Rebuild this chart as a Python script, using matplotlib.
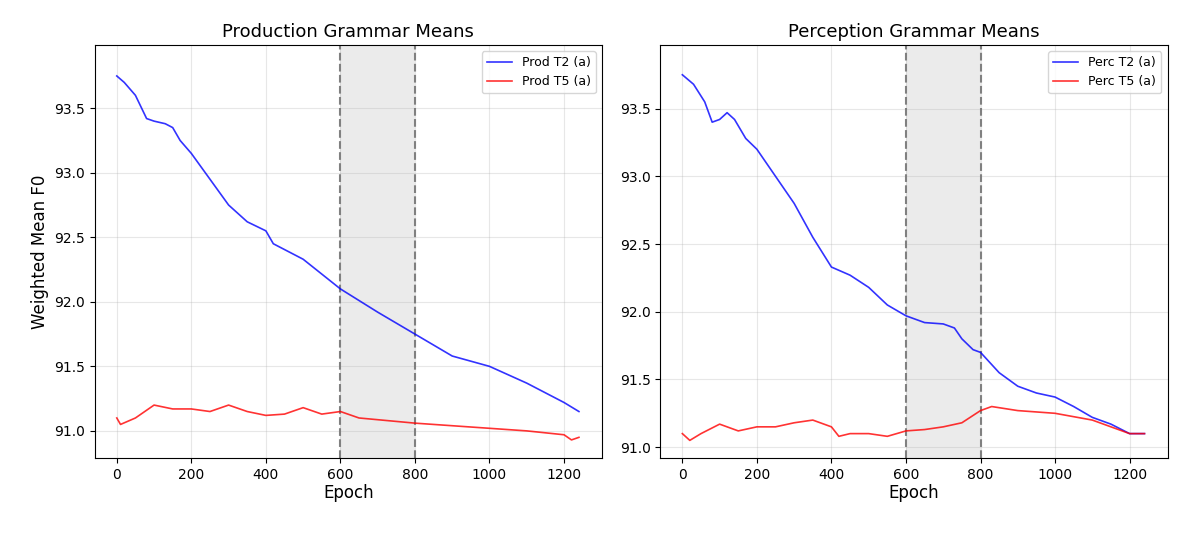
import matplotlib
matplotlib.use("Agg")
import matplotlib.pyplot as plt

prod_t2_x = [0,20,50,80,100,130,150,170,200,250,300,350,400,420,500,600,700,800,900,1000,1100,1200,1240]
prod_t2_y = [93.75,93.7,93.6,93.42,93.4,93.38,93.35,93.25,93.15,92.95,92.75,92.62,92.55,92.45,92.33,92.1,91.92,91.75,91.58,91.5,91.37,91.22,91.15]
prod_t5_x = [0,10,50,100,150,200,250,300,350,400,450,500,550,600,650,800,900,1000,1100,1200,1220,1240]
prod_t5_y = [91.1,91.05,91.1,91.2,91.17,91.17,91.15,91.2,91.15,91.12,91.13,91.18,91.13,91.15,91.1,91.06,91.04,91.02,91.0,90.97,90.93,90.95]
perc_t2_x = [0,30,60,80,100,120,140,170,200,250,300,350,400,450,500,550,600,650,700,730,750,780,800,850,900,950,1000,1050,1100,1150,1200,1240]
perc_t2_y = [93.75,93.68,93.55,93.4,93.42,93.47,93.42,93.28,93.2,93.0,92.8,92.55,92.33,92.27,92.18,92.05,91.97,91.92,91.91,91.88,91.8,91.72,91.7,91.55,91.45,91.4,91.37,91.3,91.22,91.17,91.1,91.1]
perc_t5_x = [0,20,50,100,150,200,250,300,350,400,420,450,500,550,600,650,700,750,800,830,900,1000,1100,1150,1200,1240]
perc_t5_y = [91.1,91.05,91.1,91.17,91.12,91.15,91.15,91.18,91.2,91.15,91.08,91.1,91.1,91.08,91.12,91.13,91.15,91.18,91.27,91.3,91.27,91.25,91.2,91.15,91.1,91.1]
xticks = [0,200,400,600,800,1000,1200]

fig, axes = plt.subplots(1, 2, figsize=(12, 5.42), dpi=100)
fig.subplots_adjust(left=0.079, right=0.973, top=0.917, bottom=0.155, wspace=0.115)

panels = [
    (axes[0], "Production Grammar Means", prod_t2_x, prod_t2_y, prod_t5_x, prod_t5_y, "Prod", (90.79, 93.99)),
    (axes[1], "Perception Grammar Means", perc_t2_x, perc_t2_y, perc_t5_x, perc_t5_y, "Perc", (90.92, 93.97)),
]
for ax, title, x1, y1, x2, y2, lab, yl in panels:
    ax.axvspan(600, 800, color="lightgray", alpha=0.45, lw=0)
    ax.axvline(600, color="gray", ls="--", lw=1.5)
    ax.axvline(800, color="gray", ls="--", lw=1.5)
    ax.plot(x1, y1, color="blue", lw=1.2, alpha=0.8, label=f"{lab} T2 (a)")
    ax.plot(x2, y2, color="red", lw=1.2, alpha=0.8, label=f"{lab} T5 (a)")
    ax.set_title(title, fontsize=13)
    ax.set_xlabel("Epoch", fontsize=12, labelpad=2)
    ax.set_xticks(xticks)
    ax.set_xlim(-59, 1302)
    ax.set_ylim(*yl)
    ax.grid(True, alpha=0.3)
    ax.legend(loc="upper right", fontsize=9)
axes[0].set_ylabel("Weighted Mean F0", fontsize=12)
fig.savefig("out.png")
